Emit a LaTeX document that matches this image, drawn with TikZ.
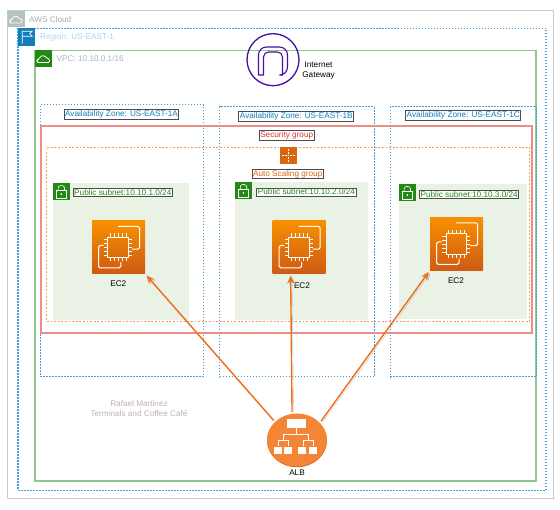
\documentclass[tikz,border=0pt]{standalone}
\usepackage{fontspec}
\setmainfont{Liberation Sans}
\usetikzlibrary{shapes.geometric,arrows.meta,positioning}
\definecolor{CloudGray}{HTML}{B5C2BF}
\definecolor{CloudLine}{HTML}{C3CECB}
\definecolor{CloudText}{HTML}{A5ACAC}
\definecolor{RegionBlue}{HTML}{147EBA}
\definecolor{RegionLine}{HTML}{45A0D8}
\definecolor{RegionText}{HTML}{B0D3EA}
\definecolor{VpcGreen}{HTML}{248814}
\definecolor{VpcLine}{HTML}{93C68A}
\definecolor{VpcText}{HTML}{A9B6BF}
\definecolor{SecurityRed}{HTML}{D9382A}
\definecolor{SecurityLine}{HTML}{EC8E85}
\definecolor{AsgOrange}{HTML}{D86613}
\definecolor{AsgLine}{HTML}{EE9A63}
\definecolor{SubnetFill}{HTML}{E9F2E5}
\definecolor{IgwPurple}{HTML}{4310A5}
\definecolor{AlbOrange}{HTML}{F58536}
\definecolor{ArrowOrange}{HTML}{EE6F18}
\definecolor{AlbRim}{HTML}{C8621F}
\definecolor{Ec2Top}{HTML}{F79000}
\definecolor{Ec2Bottom}{HTML}{CF5A14}
\definecolor{MarkText}{HTML}{C0B0BC}
\tikzset{
    % Base container style
    basebox/.style={
        line width=1pt,
        inner sep=0pt,
        outer sep=0pt
    },
    % AWS cloud box
    cloudbox/.style={
        basebox,
        draw=CloudLine
    },
    % Region box
    regionbox/.style={
        basebox,
        draw=RegionLine,
        line width=1.2pt,
        dash pattern=on 1.5pt off 1.5pt
    },
    % VPC box
    vpcbox/.style={
        basebox,
        draw=VpcLine,
        line width=1.8pt
    },
    % Availability zone box
    zonebox/.style={
        basebox,
        draw=RegionLine,
        dash pattern=on 1.5pt off 1.5pt
    },
    % Security group box
    securitybox/.style={
        basebox,
        draw=SecurityLine,
        line width=1.8pt
    },
    % Auto scaling box
    asgbox/.style={
        basebox,
        draw=AsgLine,
        dash pattern=on 1.8pt off 1.8pt
    },
    % Subnet box
    subnetbox/.style={
        basebox,
        fill=SubnetFill
    },
    % Label with a frame
    framelabel/.style={
        draw=black!70,
        fill=white,
        line width=0.9pt,
        inner xsep=1pt,
        inner ysep=1pt,
        font=\fontsize{8.2}{9}\selectfont
    },
    zonelabel/.style={framelabel,text=RegionBlue},
    securitylabel/.style={framelabel,text=SecurityRed},
    asglabel/.style={framelabel,text=AsgOrange},
    subnetlabel/.style={framelabel,text=VpcGreen},
    % Plain text
    plaintext/.style={
        inner sep=0pt,
        align=center,
        font=\fontsize{8.2}{10}\selectfont
    },
    % EC2 square
    ec2node/.style={
        minimum width=53pt,
        minimum height=53pt,
        inner sep=0pt,
        outer sep=1.5pt,
        top color=Ec2Top,
        bottom color=Ec2Bottom
    },
    % ALB circle
    albnode/.style={
        ellipse,
        fill=AlbOrange,
        minimum width=60pt,
        minimum height=53pt,
        inner sep=0pt,
        outer sep=2pt
    },
    % Arrow style with its grey shadow
    myarrow/.style={
        -{Stealth[length=8pt,width=7pt]},
        line width=1.4pt,
        draw=ArrowOrange,
        preaction={draw=black!22,transform canvas={xshift=1.5pt,yshift=-1.2pt}}
    },
    % Icons
    ec2icon/.pic={
        \draw[white,line width=1pt,rounded corners=1.5pt] (-0.5,-21) -- (21,-21) -- (21,1.7) -- (13.5,1.7);
        \draw[white,line width=1pt,rounded corners=1.5pt] (-15,-2) -- (-20,-2) -- (-20,20.3) -- (2.3,20.3) -- (2.3,14.7);
        \draw[white,line width=1pt] (-10.7,-10.4) rectangle (10,10.4);
        \foreach \p in {-8,-4,0,4,8}{
            \draw[white,line width=0.9pt] (\p,-14) -- (\p,-10.4);
            \draw[white,line width=0.9pt] (\p,10.4) -- (\p,14);
            \draw[white,line width=0.9pt] (-14.3,\p) -- (-10.7,\p);
            \draw[white,line width=0.9pt] (10,\p) -- (13.6,\p);
        }
    },
    lockicon/.pic={
        \fill[VpcGreen] (-8.7,-8.7) rectangle (8.7,8.7);
        \draw[white,line width=0.6pt] (-5,-1) rectangle (5,6.5);
        \draw[white,line width=0.6pt,rounded corners=2.5pt] (-3.2,-1) -- (-3.2,-6) -- (3.2,-6) -- (3.2,-1);
        \fill[white] (0,2.5) circle (1pt);
    },
    cloudicon/.pic={
        \draw[pic actions,line width=0.7pt,rounded corners=1.6pt] (-4.5,3.5) -- (-6.5,3.5) -- (-6.5,0.5) -- (-4,0) -- (-3,-3) -- (1,-3.5) -- (2.5,-1) -- (5.5,-0.5) -- (6.5,3.5) -- cycle;
    },
    flagicon/.pic={
        \fill[RegionBlue] (-8.7,-8.7) rectangle (8.7,8.7);
        \draw[white,line width=0.7pt] (-4.5,6.5) -- (-4.5,-6) -- (5.5,-6) -- (3,-3.5) -- (5.5,-1) -- (-4.5,-1);
    },
    asgicon/.pic={
        \fill[AsgOrange] (-8.5,-8.5) rectangle (8.5,8.5);
        \foreach \a in {0,90,180,270}{
            \draw[white,line width=0.6pt,rotate=\a] (1.5,0) -- (3.5,0);
            \draw[white,line width=0.7pt,rotate=\a] (4.5,0) -- (6.5,0);
        }
        \fill[white] (0,0) circle (0.6pt);
    },
    albicon/.pic={
        \draw[white,line width=0.8pt] (-0.5,-12) -- (-0.5,-6) (-14,-6) -- (11,-6)
            (-14,-6) -- (-14,0) (11,-6) -- (11,0)
            (-19,0) -- (-9,0) (6,0) -- (16,0)
            (-19,0) -- (-19,6) (-9,0) -- (-9,6) (6,0) -- (6,6) (16,0) -- (16,6);
        \fill[white] (-9.7,-21) rectangle (8.7,-12.3);
        \foreach \p in {-22.7,-13,1.3,12.3}{
            \fill[white] (\p,6.7) rectangle ++(8,7.6);
        }
    }
}
\begin{document}
\begin{tikzpicture}[x=1pt,y=-1pt]
    \path[use as bounding box,fill=white] (0,0) rectangle (560,510);

    \node[cloudbox, minimum width=546pt, minimum height=488pt] (cloud) at (280.5,255) {};
    \node[regionbox, minimum width=528pt, minimum height=462pt] (region) at (282,259.4) {};
    \node[vpcbox, minimum width=501pt, minimum height=430.5pt] (vpc) at (285.2,265.7) {};

    \node[zonebox, minimum width=163.5pt, minimum height=272pt] (zoneA) at (122.2,241) {};
    \node[zonebox, minimum width=154.6pt, minimum height=270pt] (zoneB) at (297,242) {};
    \node[zonebox, minimum width=145.7pt, minimum height=270pt] (zoneC) at (463.2,242) {};

    \node[securitybox, minimum width=490.4pt, minimum height=207.3pt] (security) at (286.5,229.7) {};
    \node[asgbox, minimum width=482.7pt, minimum height=174.3pt] (asg) at (288.3,234.2) {};

    \node[subnetbox, minimum width=136.3pt, minimum height=137pt] (subnetA) at (120.8,251.5) {};
    \node[subnetbox, minimum width=133pt, minimum height=138pt] (subnetB) at (301.5,251) {};
    \node[subnetbox, minimum width=127.7pt, minimum height=135pt] (subnetC) at (462.8,251.5) {};

    % corner icons and titles
    \fill[CloudGray] (8,11) rectangle (24.5,27.5);
    \pic[draw=white] at (16.2,19.5) {cloudicon};
    \node[plaintext, text=CloudText, anchor=west] (cloudtitle) at (29,19.5) {AWS Cloud};
    \pic at (26.7,37.2) {flagicon};
    \node[plaintext, text=RegionText, anchor=west] (regiontitle) at (40,37) {Region: US-EAST-1};
    \fill[VpcGreen] (35,50) rectangle (52,67);
    \pic[draw=white] at (43.5,59) {cloudicon};
    \node[plaintext, text=VpcText, anchor=west] (vpctitle) at (56.5,59) {VPC: 10.10.0.1/16};

    % internet gateway
    \node[circle, draw=IgwPurple, line width=1.3pt, minimum size=52pt, inner sep=0pt] (igw) at (273,59.7) {};
    \draw[IgwPurple, line width=1.1pt, rounded corners=8pt] (258.5,75) -- (258.5,47) -- (287.5,47) -- (287.5,75) [rounded corners=0pt] -- (282.5,75) [rounded corners=5pt] -- (282.5,52) -- (263.5,52) [rounded corners=0pt] -- (263.5,75) -- cycle;
    \node[plaintext] (igwtext) at (318.5,71) {Internet\\Gateway};

    % labels of the boxes
    \node[zonelabel] (zoneAlabel) at (121.5,114.2) {Availability Zone: US-EAST-1A};
    \node[zonelabel] (zoneBlabel) at (296.3,116.2) {Availability Zone: US-EAST-1B};
    \node[zonelabel] (zoneClabel) at (463.3,115.5) {Availability Zone: US-EAST-1C};
    \node[securitylabel] (securitylabel) at (286.7,135.3) {Security group};
    \node[asglabel] (asglabel) at (287.7,174) {Auto Scaling group};
    \pic at (288.3,155.3) {asgicon};

    \pic at (61.3,191.6) {lockicon};
    \pic at (243.5,190.5) {lockicon};
    \pic at (407.3,192.5) {lockicon};
    \node[subnetlabel] (subnetAlabel) at (122.8,192.8) {Public subnet:10.10.1.0/24};
    \node[subnetlabel] (subnetBlabel) at (306.5,192) {Public subnet:10.10.2.0/24};
    \node[subnetlabel] (subnetClabel) at (469.2,194.6) {Public subnet:10.10.3.0/24};

    \node[ec2node] (ec2A) at (118.5,247.5) {};
    \node[ec2node] (ec2B) at (299.2,247.5) {};
    \node[ec2node] (ec2C) at (456.7,244) {};
    \pic at (ec2A) {ec2icon};
    \pic at (ec2B) {ec2icon};
    \pic at (ec2C) {ec2icon};
    \node[plaintext] (ec2Atext) at (118.3,283.5) {EC2};
    \node[plaintext] (ec2Btext) at (302,285.5) {EC2};
    \node[plaintext] (ec2Ctext) at (456,280.5) {EC2};

    \node[plaintext, text=MarkText] (credit) at (139,409) {Rafael Martinez\\Terminals and Coffee Café};

    % load balancer
    \fill[AlbRim] (297,440.7) ellipse (30pt and 26.5pt);
    \node[albnode] (alb) at (297,440) {};
    \pic at (297,440) {albicon};
    \node[plaintext] (albtext) at (297,472.5) {ALB};

    \draw[myarrow] (alb.140) -- (ec2A.south east);
    \draw[myarrow] (alb.100) -- (ec2B.253);
    \draw[myarrow] (alb.38) -- (ec2C.south west);
\end{tikzpicture}
\end{document}
